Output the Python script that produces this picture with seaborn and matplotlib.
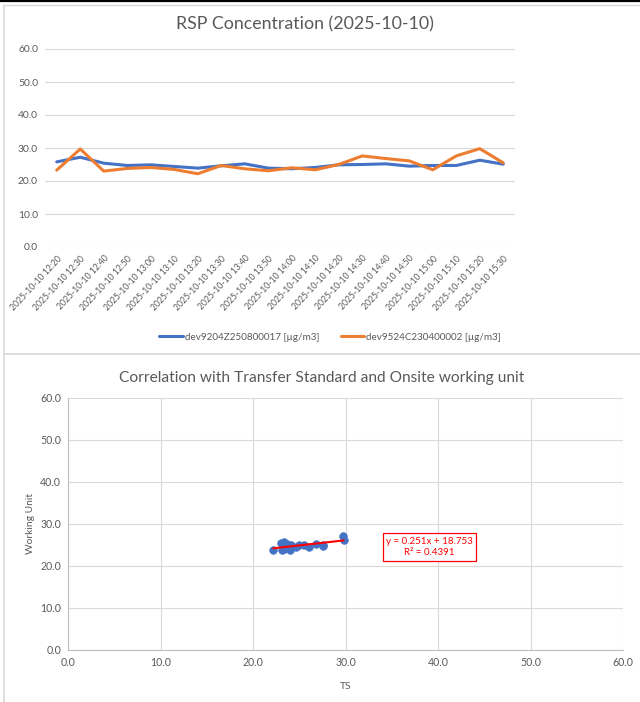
import matplotlib
matplotlib.use("Agg")
import matplotlib.pyplot as plt
from matplotlib.lines import Line2D
import seaborn as sns
import pandas as pd
import numpy as np

times = ["2025-10-10 12:20", "2025-10-10 12:30", "2025-10-10 12:40", "2025-10-10 12:50",
         "2025-10-10 13:00", "2025-10-10 13:10", "2025-10-10 13:20", "2025-10-10 13:30",
         "2025-10-10 13:40", "2025-10-10 13:50", "2025-10-10 14:00", "2025-10-10 14:10",
         "2025-10-10 14:20", "2025-10-10 14:30", "2025-10-10 14:40", "2025-10-10 14:50",
         "2025-10-10 15:00", "2025-10-10 15:10", "2025-10-10 15:20", "2025-10-10 15:30"]
dev_blue = [25.8, 27.2, 25.4, 24.7, 24.9, 24.4, 23.9, 24.6, 25.2, 23.9,
            23.7, 24.1, 24.9, 25.0, 25.2, 24.5, 24.7, 24.7, 26.3, 25.1]
dev_orange = [23.3, 29.7, 23.0, 23.8, 24.1, 23.5, 22.2, 24.7, 23.7, 23.1,
              24.0, 23.4, 25.0, 27.6, 26.8, 26.1, 23.4, 27.6, 29.8, 25.5]
name_blue = "dev9204Z250800017 [µg/m3]"
name_orange = "dev9524C230400002 [µg/m3]"
yticks = [0, 10, 20, 30, 40, 50, 60]
xticks_sc = [0, 10, 20, 30, 40, 50, 60]
fit_text = "y = 0.251x + 18.753\nR² = 0.4391"

BLUE = "#4472C4"
ORANGE = "#ED7D31"
GRAY_TXT = "#595959"
GRID = "#D9D9D9"

sns.set_style("white")
plt.rcParams["font.family"] = ["Lato", "DejaVu Sans"]

W, H = 640, 702
fig = plt.figure(figsize=(W / 100, H / 100), dpi=100)

# panel borders (screenshot frame)
fig.add_artist(Line2D([0, 1], [1 - 1 / H, 1 - 1 / H], color="black", lw=1.6, transform=fig.transFigure))
fig.add_artist(Line2D([4 / W, 1], [1 - 5 / H, 1 - 5 / H], color="#D9D9D9", lw=1.0, transform=fig.transFigure))
fig.add_artist(Line2D([4 / W, 4 / W], [0, 1 - 5 / H], color="#D9D9D9", lw=1.2, transform=fig.transFigure))
fig.add_artist(Line2D([4 / W, 1], [1 - 354 / H, 1 - 354 / H], color="#D9D9D9", lw=1.2, transform=fig.transFigure))

# ---------- top chart ----------
ax1 = fig.add_axes([45 / W, 1 - 247 / H, 470 / W, 198 / H])
idx = np.arange(len(times))
df = pd.DataFrame({
    "idx": np.concatenate([idx, idx]),
    "value": dev_blue + dev_orange,
    "series": [name_blue] * len(times) + [name_orange] * len(times),
})
sns.lineplot(data=df, x="idx", y="value", hue="series",
             palette={name_blue: BLUE, name_orange: ORANGE},
             linewidth=2.2, ax=ax1, legend=False)
ax1.set_xlim(-0.5, len(times) - 0.5)
ax1.set_ylim(0, 60)
ax1.set_yticks(yticks)
ax1.set_yticklabels([f"{v:.1f}" for v in yticks], color=GRAY_TXT, fontsize=7.4)
ax1.set_xticks(idx)
ax1.set_xticklabels(times, rotation=47, ha="right", rotation_mode="anchor",
                    color=GRAY_TXT, fontsize=6.2)
ax1.tick_params(axis="both", length=0, pad=5)
ax1.grid(axis="y", color=GRID, lw=0.8)
ax1.set_axisbelow(True)
for s in ax1.spines.values():
    s.set_visible(False)
ax1.set_xlabel("")
ax1.set_ylabel("")

fig.text(305 / W, 1 - 24 / H, "RSP Concentration (2025-10-10)", ha="center", va="center",
         fontsize=12.8, color=GRAY_TXT)
handles = [Line2D([], [], color=BLUE, lw=2.2), Line2D([], [], color=ORANGE, lw=2.2)]
fig.legend(handles, [name_blue, name_orange], loc="center", ncol=2, frameon=False,
           bbox_to_anchor=(330 / W, 1 - 337 / H), fontsize=7.1, labelcolor=GRAY_TXT,
           handlelength=2.4, columnspacing=2.2, handletextpad=0.2)

# ---------- bottom chart ----------
ax2 = fig.add_axes([68 / W, 1 - 650 / H, 555 / W, 252 / H])
sc = pd.DataFrame({"TS": dev_orange, "WU": dev_blue})
sns.scatterplot(data=sc, x="TS", y="WU", color=BLUE, s=30, edgecolor=BLUE, linewidth=0.5, ax=ax2, zorder=3)
sns.regplot(data=sc, x="TS", y="WU", scatter=False, ci=None, ax=ax2,
            line_kws={"color": "#FF0000", "lw": 1.5, "zorder": 4})
ax2.set_xlim(0, 60)
ax2.set_ylim(0, 60)
ax2.set_xticks(xticks_sc)
ax2.set_yticks(yticks)
ax2.set_xticklabels([f"{v:.1f}" for v in xticks_sc], color=GRAY_TXT, fontsize=7.6)
ax2.set_yticklabels([f"{v:.1f}" for v in yticks], color=GRAY_TXT, fontsize=7.6)
ax2.tick_params(axis="both", length=0, pad=5)
ax2.grid(True, color=GRID, lw=0.8)
ax2.set_axisbelow(True)
for k, s in ax2.spines.items():
    if k in ("left", "bottom"):
        s.set_color("#BFBFBF")
        s.set_linewidth(0.8)
    else:
        s.set_visible(False)
ax2.set_xlabel("TS", color=GRAY_TXT, fontsize=7.4, labelpad=10)
ax2.set_ylabel("Working Unit", color=GRAY_TXT, fontsize=7.4, labelpad=4)
ax2.text(39.1, 24.5, fit_text, ha="center", va="center", color="#FF0000", fontsize=7.0,
         linespacing=1.35,
         bbox=dict(boxstyle="square,pad=0.35", facecolor="white", edgecolor="#FF0000", lw=0.9))

fig.text(322 / W, 1 - 378 / H, "Correlation with Transfer Standard and Onsite working unit",
         ha="center", va="center", fontsize=11.2, color=GRAY_TXT)

fig.savefig("out.png", dpi=100)
